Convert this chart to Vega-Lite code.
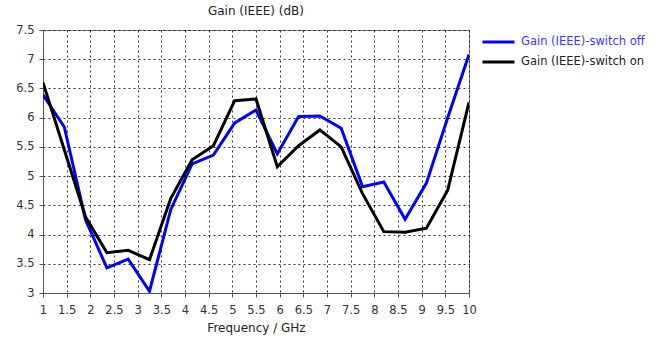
{
  "$schema": "https://vega.github.io/schema/vega-lite/v6.json",
  "autosize": "none",
  "width": 426,
  "height": 263,
  "padding": {"left": 43, "top": 30, "right": 188, "bottom": 46},
  "background": "white",
  "title": {"text": "Gain (IEEE) (dB)", "font": "DejaVu Sans", "fontSize": 12, "fontWeight": "normal", "color": "#222", "offset": 6, "anchor": "middle"},
  "config": {
    "font": "DejaVu Sans",
    "view": {"stroke": "#888", "strokeWidth": 1},
    "axis": {
      "labelFont": "DejaVu Sans", "labelFontSize": 11.5, "labelColor": "#333",
      "titleFont": "DejaVu Sans", "titleFontSize": 12, "titleFontWeight": "normal", "titleColor": "#222",
      "domainColor": "#555", "tickColor": "#555", "tickSize": 4,
      "gridColor": "#000", "gridDash": [2, 3], "gridOpacity": 0.8, "gridWidth": 1
    }
  },
  "data": {
    "values": [
      {"f": 1.0, "gain": 6.39, "series": "Gain (IEEE)-switch off"},
      {"f": 1.45, "gain": 5.84, "series": "Gain (IEEE)-switch off"},
      {"f": 1.9, "gain": 4.25, "series": "Gain (IEEE)-switch off"},
      {"f": 2.35, "gain": 3.43, "series": "Gain (IEEE)-switch off"},
      {"f": 2.8, "gain": 3.58, "series": "Gain (IEEE)-switch off"},
      {"f": 3.25, "gain": 3.03, "series": "Gain (IEEE)-switch off"},
      {"f": 3.7, "gain": 4.43, "series": "Gain (IEEE)-switch off"},
      {"f": 4.15, "gain": 5.21, "series": "Gain (IEEE)-switch off"},
      {"f": 4.6, "gain": 5.36, "series": "Gain (IEEE)-switch off"},
      {"f": 5.05, "gain": 5.91, "series": "Gain (IEEE)-switch off"},
      {"f": 5.5, "gain": 6.13, "series": "Gain (IEEE)-switch off"},
      {"f": 5.95, "gain": 5.38, "series": "Gain (IEEE)-switch off"},
      {"f": 6.4, "gain": 6.02, "series": "Gain (IEEE)-switch off"},
      {"f": 6.85, "gain": 6.03, "series": "Gain (IEEE)-switch off"},
      {"f": 7.3, "gain": 5.82, "series": "Gain (IEEE)-switch off"},
      {"f": 7.75, "gain": 4.82, "series": "Gain (IEEE)-switch off"},
      {"f": 8.2, "gain": 4.9, "series": "Gain (IEEE)-switch off"},
      {"f": 8.65, "gain": 4.26, "series": "Gain (IEEE)-switch off"},
      {"f": 9.1, "gain": 4.88, "series": "Gain (IEEE)-switch off"},
      {"f": 9.55, "gain": 6.0, "series": "Gain (IEEE)-switch off"},
      {"f": 10.0, "gain": 7.08, "series": "Gain (IEEE)-switch off"},
      {"f": 1.0, "gain": 6.6, "series": "Gain (IEEE)-switch on"},
      {"f": 1.45, "gain": 5.45, "series": "Gain (IEEE)-switch on"},
      {"f": 1.9, "gain": 4.3, "series": "Gain (IEEE)-switch on"},
      {"f": 2.35, "gain": 3.69, "series": "Gain (IEEE)-switch on"},
      {"f": 2.8, "gain": 3.73, "series": "Gain (IEEE)-switch on"},
      {"f": 3.25, "gain": 3.57, "series": "Gain (IEEE)-switch on"},
      {"f": 3.7, "gain": 4.62, "series": "Gain (IEEE)-switch on"},
      {"f": 4.15, "gain": 5.28, "series": "Gain (IEEE)-switch on"},
      {"f": 4.6, "gain": 5.52, "series": "Gain (IEEE)-switch on"},
      {"f": 5.05, "gain": 6.29, "series": "Gain (IEEE)-switch on"},
      {"f": 5.5, "gain": 6.32, "series": "Gain (IEEE)-switch on"},
      {"f": 5.95, "gain": 5.16, "series": "Gain (IEEE)-switch on"},
      {"f": 6.4, "gain": 5.52, "series": "Gain (IEEE)-switch on"},
      {"f": 6.85, "gain": 5.79, "series": "Gain (IEEE)-switch on"},
      {"f": 7.3, "gain": 5.5, "series": "Gain (IEEE)-switch on"},
      {"f": 7.75, "gain": 4.7, "series": "Gain (IEEE)-switch on"},
      {"f": 8.2, "gain": 4.05, "series": "Gain (IEEE)-switch on"},
      {"f": 8.65, "gain": 4.04, "series": "Gain (IEEE)-switch on"},
      {"f": 9.1, "gain": 4.11, "series": "Gain (IEEE)-switch on"},
      {"f": 9.55, "gain": 4.76, "series": "Gain (IEEE)-switch on"},
      {"f": 10.0, "gain": 6.26, "series": "Gain (IEEE)-switch on"}
    ]
  },
  "mark": {"type": "line", "strokeWidth": 3, "clip": true},
  "encoding": {
    "x": {
      "field": "f", "type": "quantitative",
      "scale": {"domain": [1, 10], "nice": false, "zero": false},
      "axis": {"title": "Frequency / GHz", "values": [1, 1.5, 2, 2.5, 3, 3.5, 4, 4.5, 5, 5.5, 6, 6.5, 7, 7.5, 8, 8.5, 9, 9.5, 10], "format": "~g", "labelFlush": false, "labelPadding": 7, "titlePadding": 7}
    },
    "y": {
      "field": "gain", "type": "quantitative",
      "scale": {"domain": [3, 7.5], "nice": false, "zero": false},
      "axis": {"title": null, "values": [3, 3.5, 4, 4.5, 5, 5.5, 6, 6.5, 7, 7.5], "format": "~g", "labelPadding": 5}
    },
    "color": {
      "field": "series", "type": "nominal",
      "scale": {"domain": ["Gain (IEEE)-switch off", "Gain (IEEE)-switch on"], "range": ["#0000ff", "#000000"]},
      "legend": {
        "title": null, "orient": "none", "legendX": 438, "legendY": 2,
        "symbolType": "stroke", "symbolSize": 1024, "symbolStrokeWidth": 3,
        "clipHeight": 20, "rowPadding": 0,
        "labelFont": "DejaVu Sans", "labelFontSize": 11.5, "labelOffset": 5,
        "encode": {"labels": {"update": {"fill": {"signal": "datum.value === 'Gain (IEEE)-switch off' ? '#3a3aff' : '#222222'"}}}}
      }
    }
  }
}
